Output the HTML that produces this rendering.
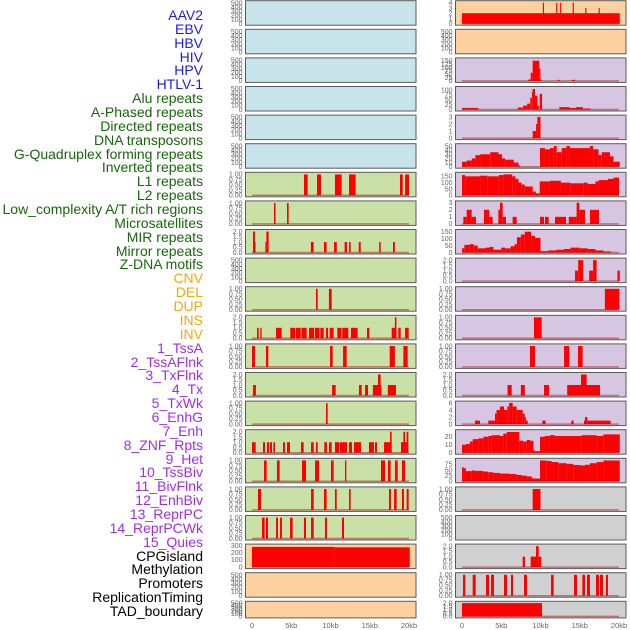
<!DOCTYPE html>
<html><head><meta charset="utf-8">
<style>
html,body{margin:0;padding:0;background:#fff;}
#wrap{position:relative;width:630px;height:630px;overflow:hidden;font-family:"Liberation Sans",Arial,sans-serif;}
#labels{position:absolute;left:0;top:0;width:203px;}
.lab{position:absolute;right:0;font-size:14px;line-height:14px;white-space:nowrap;text-align:right;}
svg{position:absolute;left:0;top:0;}
</style></head>
<body>
<div id="wrap">
<div id="labels"></div>
<svg id="chart" width="630" height="630"></svg>
</div>
<script>
// ---------- labels ----------
const labelNames = ["AAV2","EBV","HBV","HIV","HPV","HTLV-1","Alu repeats","A-Phased repeats","Directed repeats","DNA transposons","G-Quadruplex forming repeats","Inverted repeats","L1 repeats","L2 repeats","Low_complexity A/T rich regions","Microsatellites","MIR repeats","Mirror repeats","Z-DNA motifs","CNV","DEL","DUP","INS","INV","1_TssA","2_TssAFlnk","3_TxFlnk","4_Tx","5_TxWk","6_EnhG","7_Enh","8_ZNF_Rpts","9_Het","10_TssBiv","11_BivFlnk","12_EnhBiv","13_ReprPC","14_ReprPCWk","15_Quies","CPGisland","Methylation","Promoters","ReplicationTiming","TAD_boundary"];
const labelGroups = ["v","v","v","v","v","v","r","r","r","r","r","r","r","r","r","r","r","r","r","s","s","s","s","s","c","c","c","c","c","c","c","c","c","c","c","c","c","c","c","o","o","o","o","o"];
const groupColor = {v:"#1a1aee",r:"#16680a",s:"#ffa500",c:"#a02cf0",o:"#000"};
const labDiv = document.getElementById('labels');
labelNames.forEach((n,i)=>{
  const d=document.createElement('div');
  d.className='lab';
  d.textContent=n;
  d.style.top=(8+i*13.86)+'px';
  d.style.color=groupColor[labelGroups[i]];
  
  
  labDiv.appendChild(d);
});

// ---------- data (kb start, kb end, value) ----------
const T500=[0,100,200,300,400,500];
const T1=[0,0.25,0.5,0.75,1.0];
const T2=[0,0.5,1.0,1.5,2.0];
const E=[];
// left column
const L6=[[6.62,7.09,1],[8.28,8.79,1],[10.57,11.42,1],[12.36,13.2,1],[18.85,19.2,1],[19.5,20.0,1]];
const L7=[[2.8,3.0,1],[4.46,4.67,1]];
const L8=[[0.13,0.38,2],[0.3,0.45,1],[1.7,1.83,1],[1.83,2.12,2],[7.5,7.85,1],[9.17,9.5,1],[10.45,10.8,1],[11.8,12.1,1],[12.36,12.57,1],[13.6,13.85,1],[16.2,16.4,1],[17.96,18.2,1]];
const L10=[[8.15,8.37,1],[9.8,10.15,1]];
const L11=[[0.64,0.85,1],[1.06,1.23,1],[3.06,3.78,1],[4.88,5.5,1],[5.6,6.2,1],[6.3,6.96,1],[7.26,7.9,1],[8.0,8.6,1],[8.7,9.13,1],[9.43,9.7,1],[9.9,10.4,1],[10.87,11.4,1],[11.5,12.27,1],[12.6,13.46,1],[14.65,14.95,1],[17.8,18.4,1],[18.2,18.4,2],[18.64,18.94,1],[19.5,19.96,1]];
const L12=[[0,0.38,1],[1.78,2.08,1],[9.94,10.28,1],[11.6,12.06,1],[17.54,18.2,1],[19.28,19.83,1]];
const L13=[[0.13,0.5,1],[10.2,10.66,1],[13.63,13.97,1],[14.4,14.78,1],[15.4,16.5,1],[16.05,16.39,2],[17.3,18.34,1]];
const L14=[[9.43,9.64,1]];
const L15=[[0,0.47,1],[1.4,1.66,1],[1.91,2.17,1],[2.29,2.55,1],[2.72,2.93,1],[3.95,4.2,1],[4.46,4.84,1],[6.24,6.58,1],[7.52,7.86,1],[8.15,8.37,1],[9.21,9.55,1],[9.81,10.15,1],[10.57,11.13,1],[11.21,12.1,1],[12.36,12.74,1],[12.99,13.89,1],[14.9,15.54,1],[15.67,15.92,1],[16.82,17.79,1],[17.58,17.79,2],[18.98,19.83,1],[19.28,19.49,2],[19.7,19.92,2]];
const L16=[[1.53,1.87,1],[3.18,3.52,1],[6.37,6.88,1],[8.03,8.54,1],[10.06,10.4,1],[11.85,12.02,1],[16.43,16.94,1],[17.32,17.66,1],[18.22,18.56,1],[19.1,19.5,1]];
const L17=[[0.76,1.15,1],[7.52,7.86,1],[9.17,9.5,1],[10.57,10.79,1],[12.36,12.57,1],[17.45,17.7,1],[18.1,18.43,1],[19.1,19.36,1],[19.7,19.96,1]];
const L18=[[1.27,1.61,1],[1.78,2.04,1],[3.06,3.31,1],[3.57,3.82,1],[4.84,5.18,1],[6.62,6.88,1],[7.52,7.86,1],[9.3,9.55,1],[11.46,11.72,1]];
const L19=[[0,10.5,282],[10.5,20.1,276]];
// right column
const R0=[[0,20.1,2],[10.3,10.45,4],[12.0,12.15,4],[12.5,12.65,4],[14.1,14.25,4],[15.7,15.85,3],[17.4,17.55,3]];
const R2=[[8.45,8.75,10],[8.75,9.0,60],[9.0,9.85,150],[9.85,10.0,90],[10.0,10.15,10],[12.2,12.45,8],[14.0,14.4,8]];
const R3=[[0,2.1,8],[7.1,7.8,10],[7.8,8.3,20],[8.3,8.7,30],[8.7,8.9,60],[8.9,9.0,90],[9.0,9.3,105],[9.3,9.6,70],[9.6,9.8,20],[9.9,10.2,80],[12.4,13.7,12],[13.7,14.5,8],[14.5,15.4,12],[15.4,16.4,5]];
const R4=[[9.0,9.43,1],[9.43,9.6,2],[9.6,10.0,3]];
const R5=[[0,0.6,12],[0.6,1.25,15],[1.25,1.7,20],[1.7,2.3,28],[2.3,3.6,30],[3.6,4.65,35],[4.65,5.1,30],[5.1,5.5,20],[5.5,6.6,17],[6.6,7.2,10],[7.2,7.4,3],[9.94,10.57,45],[10.57,11.2,42],[11.2,11.7,45],[11.7,12.06,50],[12.06,12.7,35],[12.7,13.3,45],[13.3,13.75,50],[13.75,16.3,45],[16.3,16.7,50],[16.7,17.4,42],[17.4,17.8,28],[17.8,18.85,35],[18.85,19.3,25],[19.3,20.1,12]];
const R6=[[0,0.4,160],[0.4,2.3,150],[2.3,3.2,155],[3.2,4.7,150],[4.7,5.3,160],[5.3,6.4,165],[6.4,6.8,150],[6.8,7.2,130],[7.2,7.6,100],[7.6,8.0,85],[8.0,9.0,70],[9.0,9.4,30],[9.4,9.9,15],[9.9,11.2,110],[11.2,12.6,115],[12.6,13.8,100],[13.8,15.5,95],[15.5,16.0,100],[16.0,17.0,90],[17.0,17.4,110],[17.4,18.6,120],[18.6,19.3,130],[19.3,20.0,140]];
const R7=[[0.17,0.6,1],[0.6,1.23,2],[1.23,1.78,1],[2.8,3.48,2],[3.48,3.9,1],[4.63,4.84,2],[4.84,5.18,3],[5.18,5.6,1],[6.45,6.96,1],[9.94,10.45,1],[10.57,11.04,1],[11.85,13.25,1],[13.6,14.6,1],[14.6,14.95,3],[14.95,15.67,2],[16.3,17.45,2]];
const R8=[[0,0.3,30],[0.3,1.0,55],[1.0,1.5,60],[1.5,2.0,50],[2.0,3.0,30],[3.0,3.5,35],[3.5,4.0,40],[4.0,5.0,20],[5.0,5.5,35],[5.5,6.2,30],[6.2,6.7,45],[6.7,7.0,60],[7.0,7.5,110],[7.5,8.0,130],[8.0,8.8,150],[8.8,9.3,120],[9.3,10.0,105],[10.0,11.0,10],[11.0,12.0,15],[12.0,13.0,20],[13.0,13.8,25],[13.8,15.0,35],[15.0,16.0,30],[16.0,17.0,25],[17.0,18.0,15],[18.0,19.0,8]];
const R9=[[14.4,14.8,1],[14.8,15.45,2],[16.2,16.7,1],[16.7,17.15,2],[19.8,20.1,1]];
const R10=[[18.2,20.05,1]];
const R11=[[9.17,10.15,1]];
const R12=[[8.66,9.3,1],[13.0,13.67,1],[14.78,15.37,1]];
const R13=[[5.8,6.33,1],[7.5,8.0,1],[10.45,11.08,1],[13.4,17.58,1],[15.16,15.88,2]];
const R14=[[1.65,2.3,1],[3.35,4.2,1],[4.2,4.4,3],[4.4,4.84,4],[4.84,5.35,5],[5.35,5.77,4],[5.77,6.0,5],[6.0,6.45,6],[6.45,6.96,5],[6.96,7.73,4],[7.73,8.0,3],[8.0,8.15,2],[8.15,8.37,1],[10.23,10.66,1],[13.93,14.22,1],[15.54,15.75,1],[15.67,15.97,2],[15.97,18.94,1]];
const R15=[[0,0.5,10],[0.5,1.0,11],[1.0,1.36,14],[1.36,2.08,17],[2.08,2.72,18],[2.72,3.35,20],[3.35,3.78,21],[3.78,4.84,22],[4.84,5.27,21],[5.27,5.7,24],[5.7,7.3,26],[7.3,7.8,15],[7.8,8.24,14],[8.24,8.66,16],[8.66,9.1,15],[9.1,9.3,3],[9.3,9.94,2],[9.94,10.57,20],[10.57,11.2,21],[11.2,11.85,22],[11.85,15.24,21],[15.24,17.15,22],[17.15,18.0,21],[18.0,20.1,23]];
const R16=[[0,0.2,62],[0.2,0.5,58],[0.5,1.23,45],[1.23,1.65,48],[1.65,2.72,46],[2.72,3.35,43],[3.35,4.0,40],[4.0,4.84,37],[4.84,6.1,34],[6.1,6.96,32],[6.96,7.6,28],[7.6,8.24,25],[8.24,8.87,22],[8.87,9.1,15],[9.1,9.94,12],[9.94,10.8,92],[10.8,11.4,90],[11.4,12.27,85],[12.27,13.33,80],[13.33,14.18,77],[14.18,15.03,72],[15.03,15.67,70],[15.67,16.3,73],[16.3,17.15,80],[17.15,18.0,85],[18.0,20.1,92]];
const R17=[[9.0,10.0,1]];
const R19=[[7.73,8.03,1],[8.75,9.5,1],[9.43,9.77,2],[9.77,10.1,1]];
const R20=[[0.13,0.42,1],[1.36,1.74,1],[3.06,3.44,1],[3.7,4.08,1],[5.35,5.73,1],[6.24,6.5,1],[7.9,8.28,1],[11.34,11.68,1],[14.27,14.65,1],[15.33,15.67,1],[15.92,16.3,1],[17.07,17.45,1],[17.58,17.96,1],[18.34,18.6,1]];
const R21=[[0,10.2,2]];

const leftData=[E,E,E,E,E,E,L6,L7,L8,E,L10,L11,L12,L13,L14,L15,L16,L17,L18,L19,E,E];
const rightData=[R0,E,R2,R3,R4,R5,R6,R7,R8,R9,R10,R11,R12,R13,R14,R15,R16,R17,E,R19,R20,R21];
const leftTicks=[T500,T500,T500,T500,T500,T500,T1,T1,T2,T500,T1,T2,T1,T2,T1,T2,T1,T1,T1,[0,100,200,300],T500,T500];
const rightTicks=[[0,1,2,3,4],T500,[0,25,50,75,100,125,150],[0,25,50,75,100],[0,1,2,3],[0,10,20,30,40,50],[0,50,100,150],[0,1,2,3],[0,50,100,150],T2,T1,T1,T1,T2,[0,2,4,6],[0,10,20],[0,25,50,75],T1,T500,T2,T1,T2];
const leftMax=[520,520,520,520,520,520,1.03,1.03,2.05,520,1.03,2.05,1.03,2.05,1.03,2.05,1.03,1.03,1.03,300,520,520];
const rightMax=[4.1,520,160,110,3.05,52,170,3.05,155,2.05,1.03,1.03,1.03,2.05,6.1,27,95,1.03,520,2.05,1.03,2.05];
const leftBg=["#c8e4eb","#c8e4eb","#c8e4eb","#c8e4eb","#c8e4eb","#c8e4eb","#c9e1a6","#c9e1a6","#c9e1a6","#c9e1a6","#c9e1a6","#c9e1a6","#c9e1a6","#c9e1a6","#c9e1a6","#c9e1a6","#c9e1a6","#c9e1a6","#c9e1a6","#ffd0a0","#ffd0a0","#ffd0a0"];
const rightBg=["#ffd0a0","#ffd0a0","#d6c6e2","#d6c6e2","#d6c6e2","#d6c6e2","#d6c6e2","#d6c6e2","#d6c6e2","#d6c6e2","#d6c6e2","#d6c6e2","#d6c6e2","#d6c6e2","#d6c6e2","#d6c6e2","#d6c6e2","#d0d0d0","#d0d0d0","#d0d0d0","#d0d0d0","#d0d0d0"];
const xTicks=[0,5,10,15,20];
const xTickLabels=["0","5kb","10kb","15kb","20kb"];

// ---------- drawing ----------
const NS="http://www.w3.org/2000/svg";
const svg=document.getElementById('chart');
function mk(tag,attrs,parent){const e=document.createElementNS(NS,tag);for(const k in attrs)e.setAttribute(k,attrs[k]);(parent||svg).appendChild(e);return e;}
const cols=[{x0:245.5,x1:416,z:252,data:leftData,ticks:leftTicks,max:leftMax,bg:leftBg,name:'left'},
            {x0:455.5,x1:626,z:462,data:rightData,ticks:rightTicks,max:rightMax,bg:rightBg,name:'right'}];
const KB=7.85;
function rowTop(i){return 0.7+i*28.6;}
function rowH(i){return i===21?16.6:24.5;}
cols.forEach(c=>{
  const xs=kb=>c.z+kb*KB;
  for(let i=0;i<22;i++){
    const top=rowTop(i),h=rowH(i),bot=top+h;
    const g=mk('g',{});
    
    
    const r=mk('rect',{x:c.x0,y:top,width:c.x1-c.x0,height:h,fill:c.bg[i],stroke:'#5a5a5a','stroke-width':1},g);
    
    
    const yb=bot-1.5,yt=top+1.5;
    const ys=v=>yb-(v/c.max[i])*(yb-yt);
    // y ticks
    c.ticks[i].forEach(t=>{
      const tx=mk('text',{x:c.x0-3,y:ys(t)+2.3,'font-size':7,fill:'#666','text-anchor':'end','font-family':'Liberation Sans, sans-serif'},g);
      tx.textContent=(c.ticks[i]===T1)?t.toFixed(2):((c.ticks[i]===T2)?t.toFixed(1):String(t));
      
      
    });
    // bars
    c.data[i].forEach(s=>{
      const b=mk('rect',{x:xs(s[0]),y:ys(s[2]),width:Math.max(0.8,(s[1]-s[0])*KB),height:yb-ys(s[2]),fill:'#ff0000'},g);
      
      
    });
    // baseline
    if(c.data[i].length){
      const l=mk('line',{x1:xs(0),x2:xs(20),y1:yb,y2:yb,stroke:'rgba(170,0,0,0.45)','stroke-width':1.5},g);
      
      
    }
  }
  xTicks.forEach((t,k)=>{
    const tx=mk('text',{x:xs(t),y:628,'font-size':7.5,fill:'#666','text-anchor':'middle','font-family':'Liberation Sans, sans-serif'});
    tx.textContent=xTickLabels[k];
    
    
  });
});
</script>
</body></html>
